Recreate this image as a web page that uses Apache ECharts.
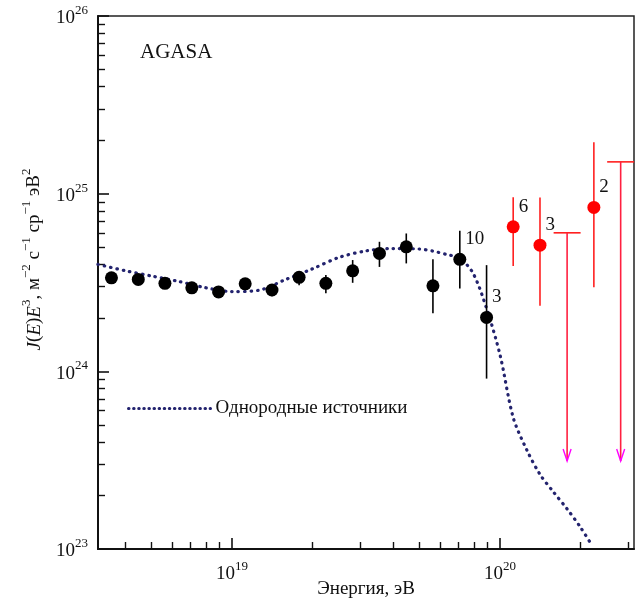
<!DOCTYPE html>
<html>
<head>
<meta charset="utf-8">
<script src="https://cdn.jsdelivr.net/npm/echarts@6/dist/echarts.min.js"></script>
<style>
html, body { margin: 0; padding: 0; background: #fff; }
#main { width: 642px; height: 604px; }
</style>
</head>
<body>
<div id="main"></div>
<script>
var FONT = 'Liberation Serif';

// AGASA points, eV and J(E)E^3
var blackE = [3.55e18, 4.47e18, 5.62e18, 7.08e18, 8.91e18, 1.12e19, 1.41e19, 1.78e19, 2.24e19, 2.82e19, 3.55e19, 4.47e19, 5.62e19, 7.08e19, 8.91e19];
var blackY = [3.36e24, 3.29e24, 3.13e24, 2.95e24, 2.80e24, 3.11e24, 2.87e24, 3.38e24, 3.13e24, 3.68e24, 4.61e24, 5.02e24, 3.03e24, 4.27e24, 2.01e24];
var blackLo = [3.2e24, 3.13e24, 2.98e24, 2.8e24, 2.66e24, 2.95e24, 2.65e24, 3.05e24, 2.75e24, 3.15e24, 3.87e24, 4.05e24, 2.12e24, 2.93e24, 9.1e23];
var blackHi = [3.52e24, 3.45e24, 3.29e24, 3.1e24, 2.95e24, 3.27e24, 3.1e24, 3.63e24, 3.48e24, 4.23e24, 5.36e24, 5.97e24, 4.27e24, 6.18e24, 3.96e24];
var blackN = ['', '', '', '', '', '', '', '', '', '', '', '', '', '10', '3'];

var redE = [1.12e20, 1.41e20, 2.24e20];
var redY = [6.51e24, 5.13e24, 8.37e24];
var redLo = [3.91e24, 2.34e24, 2.97e24];
var redHi = [9.55e24, 9.51e24, 1.95e25];
var redN = ['6', '3', '2'];

// upper limits
var limE = [1.78e20, 2.82e20];
var limTop = [6.02e24, 1.51e25];
var limTip = [3.13e23, 3.13e23];

// model: uniform sources
var modelE = [3.16e18, 3.98e18, 5.01e18, 6.31e18, 7.94e18, 1.0e19, 1.26e19, 1.58e19, 2.0e19, 2.51e19, 3.16e19, 3.98e19, 5.01e19, 5.62e19, 6.31e19, 7.08e19, 7.94e19, 8.91e19, 1.0e20, 1.12e20, 1.26e20, 1.41e20, 1.58e20, 1.78e20, 2.0e20, 2.21e20];
var modelY = [4.0e24, 3.69e24, 3.44e24, 3.21e24, 2.96e24, 2.81e24, 2.86e24, 3.28e24, 3.78e24, 4.38e24, 4.76e24, 4.91e24, 4.88e24, 4.75e24, 4.55e24, 4.33e24, 3.56e24, 2.26e24, 1.24e24, 5.5e23, 3.6e23, 2.63e23, 2.1e23, 1.68e23, 1.32e23, 1.04e23];

var xMajor = [1e19, 1e20];
var xMinor = [4e18, 5e18, 6e18, 7e18, 8e18, 9e18, 2e19, 3e19, 4e19, 5e19, 6e19, 7e19, 8e19, 9e19, 2e20, 3e20];
var yMajor = [1e23, 1e24, 1e25, 1e26];
var yMinor = [];
[1e23, 1e24, 1e25].forEach(function (d) {
	for (var k = 2; k <= 9; k++) yMinor.push(k * d);
});

var chart = echarts.init(document.getElementById('main'));

function powLabel(v) {
	var p = v < 100 ? Math.round(v) : Math.round(Math.log10(v));
	return '{b|10}{s|' + p + '}';
}
var powRich = {
	b: { fontFamily: FONT, fontSize: 19, color: '#111', lineHeight: 24, verticalAlign: 'bottom' },
	s: { fontFamily: FONT, fontSize: 13, color: '#111', verticalAlign: 'top' }
};

function errBar(color) {
	return function (params, api) {
		var a = api.coord([api.value(0), api.value(1)]);
		var b = api.coord([api.value(0), api.value(2)]);
		return {
			type: 'line',
			shape: { x1: a[0], y1: a[1], x2: b[0], y2: b[1] },
			style: { stroke: color, lineWidth: 1.6 }
		};
	};
}

function limitMark(params, api) {
	var t = api.coord([api.value(0), api.value(1)]);
	var b = api.coord([api.value(0), api.value(2)]);
	return {
		type: 'group',
		children: [
			{ type: 'line', shape: { x1: t[0] - 13.5, y1: t[1], x2: t[0] + 13.5, y2: t[1] }, style: { stroke: '#ff2020', lineWidth: 1.6 } },
			{ type: 'line', shape: { x1: t[0], y1: t[1], x2: b[0], y2: b[1] }, style: { stroke: '#ff2040', lineWidth: 1.6 } },
			{ type: 'polyline', shape: { points: [[b[0] - 4, b[1] - 12], [b[0], b[1]], [b[0] + 4, b[1] - 12]] }, style: { stroke: '#ff00ff', lineWidth: 1.4, fill: null } }
		]
	};
}

var ptLabel = {
	show: true,
	position: 'right',
	offset: [-6, -20],
	fontFamily: FONT,
	fontSize: 19,
	color: '#111'
};

var option = {
	backgroundColor: '#fff',
	animation: false,
	title: {
		text: 'AGASA',
		left: 140,
		top: 42,
		padding: 0,
		textStyle: { fontFamily: FONT, fontSize: 21, fontWeight: 'normal', color: '#111' }
	},
	legend: {
		left: 127,
		top: 399,
		padding: 0,
		itemWidth: 82,
		itemHeight: 14,
		itemStyle: { opacity: 0 },
		lineStyle: { type: [0.5, 4.6], width: 3, cap: 'round', color: '#23236e' },
		data: ['Однородные источники'],
		textStyle: { fontFamily: FONT, fontSize: 19, color: '#111' }
	},
	grid: {
		left: 98,
		right: 8,
		top: 16,
		bottom: 55,
		outerBoundsMode: 'none',
		show: true,
		borderColor: '#222',
		borderWidth: 1.5
	},
	xAxis: [{
		type: 'log',
		logBase: 10,
		min: 3.1623e18,
		max: 3.1623e20,
		name: 'Энергия, эВ',
		nameLocation: 'middle',
		nameGap: 31,
		nameMoveOverlap: false,
		nameTextStyle: { fontFamily: FONT, fontSize: 19, color: '#111' },
		axisLine: { lineStyle: { color: '#111', width: 2 } },
		axisTick: { inside: true, length: 11, customValues: xMajor, lineStyle: { color: '#111', width: 1.6 } },
		axisLabel: { customValues: xMajor, margin: 11, formatter: powLabel, rich: powRich },
		splitLine: { show: false }
	}, {
		type: 'log',
		logBase: 10,
		min: 3.1623e18,
		max: 3.1623e20,
		position: 'bottom',
		axisLine: { show: false },
		axisTick: { inside: true, length: 7, customValues: xMinor, lineStyle: { color: '#111', width: 1.4 } },
		axisLabel: { show: false },
		splitLine: { show: false }
	}],
	yAxis: [{
		type: 'log',
		logBase: 10,
		min: 1e23,
		max: 1.00001e26,
		name: '{i|J}{n|(}{i|E}{n|)}{i|E}{s|3}{n|, м}{s|−2}{n| с}{s|−1}{n| ср}{s|−1}{n| эВ}{s|2}',
		nameLocation: 'middle',
		nameGap: 54,
		nameMoveOverlap: false,
		nameTextStyle: {
			padding: [0, 0, 0, 46],
			rich: {
				i: { fontFamily: FONT, fontSize: 19, fontStyle: 'italic', color: '#111', lineHeight: 24, verticalAlign: 'bottom' },
				n: { fontFamily: FONT, fontSize: 19, color: '#111', lineHeight: 24, verticalAlign: 'bottom' },
				s: { fontFamily: FONT, fontSize: 13, color: '#111', verticalAlign: 'top' }
			}
		},
		axisLine: { lineStyle: { color: '#111', width: 2 } },
		axisTick: { inside: true, length: 11, customValues: yMajor, lineStyle: { color: '#111', width: 1.6 } },
		axisLabel: { customValues: yMajor, margin: 10, showMaxLabel: true, showMinLabel: true, formatter: powLabel, rich: powRich },
		splitLine: { show: false }
	}, {
		type: 'log',
		logBase: 10,
		min: 1e23,
		max: 1.00001e26,
		position: 'left',
		axisLine: { show: false },
		axisTick: { inside: true, length: 7, customValues: yMinor, lineStyle: { color: '#111', width: 1.4 } },
		axisLabel: { show: false },
		splitLine: { show: false }
	}],
	series: [{
		name: 'Однородные источники',
		type: 'line',
		data: modelE.map(function (e, i) { return [e, modelY[i]]; }),
		symbol: 'none',
		smooth: 0.3,
		lineStyle: { color: '#23236e', width: 3.2, type: [0.5, 6], cap: 'round' },
		itemStyle: { color: '#23236e' },
		z: 3
	}, {
		type: 'custom',
		renderItem: errBar('#000'),
		data: blackE.map(function (e, i) { return [e, blackLo[i], blackHi[i]]; }),
		encode: { x: 0, y: [1, 2] },
		z: 4
	}, {
		type: 'scatter',
		symbolSize: 13,
		itemStyle: { color: '#000', opacity: 1 },
		label: ptLabel,
		data: blackE.map(function (e, i) {
			return { value: [e, blackY[i]], label: { show: blackN[i] !== '', formatter: blackN[i] } };
		}),
		z: 5
	}, {
		type: 'custom',
		renderItem: errBar('#ff2020'),
		data: redE.map(function (e, i) { return [e, redLo[i], redHi[i]]; }),
		encode: { x: 0, y: [1, 2] },
		z: 4
	}, {
		type: 'scatter',
		symbolSize: 13,
		itemStyle: { color: '#ff0000', opacity: 1 },
		label: ptLabel,
		data: redE.map(function (e, i) {
			return { value: [e, redY[i]], label: { formatter: redN[i] } };
		}),
		z: 5
	}, {
		type: 'custom',
		renderItem: limitMark,
		data: limE.map(function (e, i) { return [e, limTop[i], limTip[i]]; }),
		encode: { x: 0, y: [1, 2] },
		z: 4
	}]
};

chart.setOption(option);
</script>
</body>
</html>
